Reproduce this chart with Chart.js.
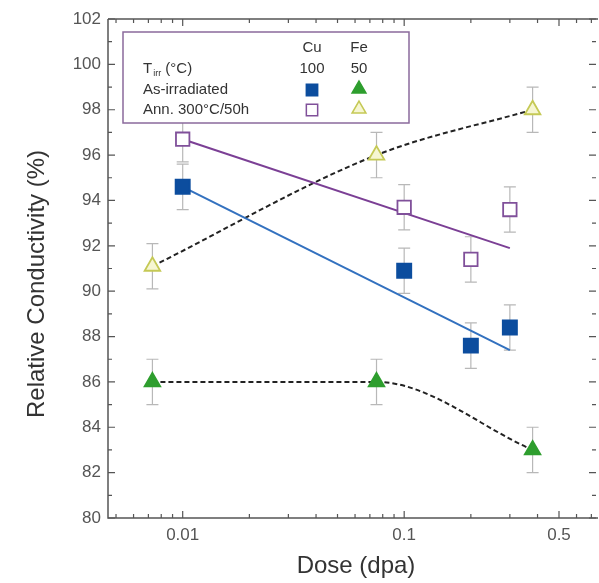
<!DOCTYPE html>
<html>
<head>
<meta charset="utf-8">
<script src="https://cdn.jsdelivr.net/npm/chart.js@4.4.1/dist/chart.umd.min.js"></script>
<style>
  html, body { margin: 0; padding: 0; background: #fff; overflow: hidden; }
  canvas { display: block; }
</style>
</head>
<body>
<canvas id="chart" width="599" height="583"></canvas>
<script>
// values
const cuDose = [0.01, 0.1, 0.2, 0.3];
const cuIrradiated = [94.6, 90.9, 87.6, 88.4];
const cuAnnealed = [96.7, 93.7, 91.4, 93.6];
const feDose = [0.0073, 0.075, 0.38];
const feIrradiated = [86.0, 86.0, 83.0];
const feAnnealed = [91.1, 96.0, 98.0];
const errorSize = 1;

// fitted lines (Cu) - end points only
const fitDose = [0.01, 0.3];
const cuIrradiatedFit = [94.6, 87.4];
const cuAnnealedFit = [96.7, 91.9];

const xTicks = [0.01, 0.1, 0.5];
const xMinorTicks = [0.005, 0.006, 0.007, 0.008, 0.009, 0.02, 0.03, 0.04, 0.05, 0.06, 0.07, 0.08, 0.09, 0.2, 0.3, 0.4, 0.6, 0.7];
const yTicks = [80, 82, 84, 86, 88, 90, 92, 94, 96, 98, 100, 102];
const yMinorTicks = [81, 83, 85, 87, 89, 91, 93, 95, 97, 99, 101];

const FONT = "'Liberation Sans', Arial, sans-serif";
const BLUE = "#0c4d9e";
const BLUE_LINE = "#3371bf";
const PURPLE = "#80509a";
const PURPLE_LINE = "#7b3f95";
const GREEN = "#2e9e2e";
const YELLOW = "#c5c955";
const YELLOW_FILL = "#f6f6d2";
const AXIS = "#555";
const PLOT_RIGHT = 598;

const pts = (xs, ys) => xs.map((x, i) => ({ x: x, y: ys[i] }));

const frameAndErrors = {
  id: "frameAndErrors",
  afterLayout(chart) {
    // stretch the plot to the right edge like the original figure
    const a = chart.chartArea;
    a.right = PLOT_RIGHT;
    a.width = a.right - a.left;
    const x = chart.scales.x;
    x.right = PLOT_RIGHT;
    x.width = x.right - x.left;
    x.configure();
  },
  beforeDatasetsDraw(chart) {
    const ctx = chart.ctx;
    const xs = chart.scales.x, ys = chart.scales.y;
    ctx.save();
    ctx.strokeStyle = "#b8b8b8";
    ctx.lineWidth = 1.2;
    chart.data.datasets.forEach((ds) => {
      if (!ds.errorBars) return;
      ds.data.forEach((p) => {
        const px = xs.getPixelForValue(p.x);
        const top = ys.getPixelForValue(p.y + errorSize);
        const bot = ys.getPixelForValue(p.y - errorSize);
        ctx.beginPath();
        ctx.moveTo(px, top); ctx.lineTo(px, bot);
        ctx.moveTo(px - 6, top); ctx.lineTo(px + 6, top);
        ctx.moveTo(px - 6, bot); ctx.lineTo(px + 6, bot);
        ctx.stroke();
      });
    });
    ctx.restore();
  },
  afterDatasetsDraw(chart) {
    const ctx = chart.ctx;
    const a = chart.chartArea;
    const xs = chart.scales.x, ys = chart.scales.y;
    ctx.save();
    ctx.strokeStyle = AXIS;
    ctx.lineWidth = 1.5;
    ctx.beginPath();
    ctx.moveTo(a.left, a.top); ctx.lineTo(a.left, a.bottom); ctx.lineTo(a.right, a.bottom);
    ctx.moveTo(a.left, a.top); ctx.lineTo(a.right, a.top);
    ctx.stroke();

    ctx.lineWidth = 1.2;
    ctx.beginPath();
    const xt = (v, len) => {
      const px = xs.getPixelForValue(v);
      ctx.moveTo(px, a.bottom); ctx.lineTo(px, a.bottom - len);
      ctx.moveTo(px, a.top); ctx.lineTo(px, a.top + len);
    };
    const yt = (v, len) => {
      const py = ys.getPixelForValue(v);
      ctx.moveTo(a.left, py); ctx.lineTo(a.left + len, py);
      ctx.moveTo(a.right - 2, py); ctx.lineTo(a.right - 2 - len, py);
    };
    xTicks.forEach((v) => xt(v, 7));
    xMinorTicks.forEach((v) => xt(v, 4));
    yTicks.forEach((v) => yt(v, 7));
    yMinorTicks.forEach((v) => yt(v, 4));
    ctx.stroke();

    // x tick labels
    ctx.fillStyle = AXIS;
    ctx.font = "17px " + FONT;
    ctx.textAlign = "center";
    ctx.textBaseline = "middle";
    xTicks.forEach((v) => ctx.fillText(String(v), xs.getPixelForValue(v), 535));
    ctx.restore();
  },
  afterDraw(chart) {
    const ctx = chart.ctx;
    ctx.save();
    // axis titles
    ctx.fillStyle = "#333";
    ctx.font = "24px " + FONT;
    ctx.textAlign = "center";
    ctx.textBaseline = "middle";
    ctx.fillText("Dose (dpa)", 356, 566);
    ctx.save();
    ctx.translate(37, 284);
    ctx.rotate(-Math.PI / 2);
    ctx.fillText("Relative Conductivity (%)", 0, 0);
    ctx.restore();

    // legend box
    const bx = 123, by = 32, bw = 286, bh = 91;
    ctx.fillStyle = "#fff";
    ctx.fillRect(bx, by, bw, bh);
    ctx.strokeStyle = "#8a6a9c";
    ctx.lineWidth = 1.5;
    ctx.strokeRect(bx, by, bw, bh);

    const cuX = 312, feX = 359;
    ctx.fillStyle = "#333";
    ctx.font = "15px " + FONT;
    ctx.textAlign = "center";
    ctx.fillText("Cu", cuX, 48);
    ctx.fillText("Fe", feX, 48);
    ctx.fillText("100", cuX, 69);
    ctx.fillText("50", feX, 69);

    ctx.textAlign = "left";
    ctx.fillText("T", 143, 69);
    const tw = ctx.measureText("T").width;
    ctx.font = "9px " + FONT;
    ctx.fillText("irr", 143 + tw + 1, 74);
    const iw = ctx.measureText("irr").width;
    ctx.font = "15px " + FONT;
    ctx.fillText(" (\u00B0C)", 143 + tw + iw + 1, 69);
    ctx.fillText("As-irradiated", 143, 90);
    ctx.fillText("Ann. 300\u00B0C/50h", 143, 110);

    const mark = (style, x, y, fill, stroke, r) => {
      ctx.fillStyle = fill;
      ctx.strokeStyle = stroke;
      ctx.lineWidth = 1.5;
      Chart.helpers.drawPoint(ctx, { pointStyle: style, radius: r, rotation: 0, borderWidth: 1.5 }, x, y);
    };
    mark("rect", cuX, 90, BLUE, BLUE, 8);
    mark("triangle", feX, 89, GREEN, GREEN, 8);
    mark("rect", cuX, 110, "#fff", PURPLE, 8);
    mark("triangle", feX, 109, YELLOW_FILL, YELLOW, 8);
    ctx.restore();
  }
};

const marker = (label, xs, ys, style, fill, stroke, r) => ({
  label: label,
  data: pts(xs, ys),
  showLine: false,
  pointStyle: style,
  pointRadius: r,
  pointHoverRadius: r,
  pointBackgroundColor: fill,
  pointBorderColor: stroke,
  pointBorderWidth: 1.8,
  errorBars: true,
  order: 0
});

const line = (label, xs, ys, color, dash, curved) => ({
  label: label,
  data: pts(xs, ys),
  showLine: true,
  pointRadius: 0,
  borderColor: color,
  borderWidth: 2,
  borderDash: dash,
  cubicInterpolationMode: curved ? "monotone" : "default",
  tension: 0,
  fill: false,
  order: 1
});

new Chart(document.getElementById("chart"), {
  type: "scatter",
  data: {
    datasets: [
      marker("Cu as-irradiated", cuDose, cuIrradiated, "rect", BLUE, BLUE, 10),
      marker("Cu annealed", cuDose, cuAnnealed, "rect", "#fff", PURPLE, 9.5),
      marker("Fe as-irradiated", feDose, feIrradiated, "triangle", GREEN, GREEN, 9),
      marker("Fe annealed", feDose, feAnnealed, "triangle", YELLOW_FILL, YELLOW, 9),
      line("Cu as-irradiated fit", fitDose, cuIrradiatedFit, BLUE_LINE, [], false),
      line("Cu annealed fit", fitDose, cuAnnealedFit, PURPLE_LINE, [], false),
      line("Fe as-irradiated trend", feDose, feIrradiated, "#222", [5, 3], true),
      line("Fe annealed trend", feDose, feAnnealed, "#222", [5, 3], true)
    ]
  },
  options: {
    responsive: false,
    animation: false,
    layout: { padding: { top: 19, right: 1, left: 0, bottom: 0 } },
    plugins: {
      legend: { display: false },
      tooltip: { enabled: false }
    },
    scales: {
      x: {
        type: "logarithmic",
        min: 0.0046,
        max: 0.75,
        grid: { display: false, drawTicks: false },
        border: { display: false },
        ticks: { display: false },
        afterFit: (scale) => { scale.height = 65; }
      },
      y: {
        min: 80,
        max: 102,
        grid: { display: false, drawTicks: false },
        border: { display: false },
        afterBuildTicks: (scale) => { scale.ticks = yTicks.map((v) => ({ value: v })); },
        afterFit: (scale) => { scale.width = 108; },
        ticks: {
          padding: 7,
          color: AXIS,
          font: { family: FONT, size: 17 },
          callback: (v) => String(v)
        }
      }
    }
  },
  plugins: [frameAndErrors]
});
</script>
</body>
</html>
